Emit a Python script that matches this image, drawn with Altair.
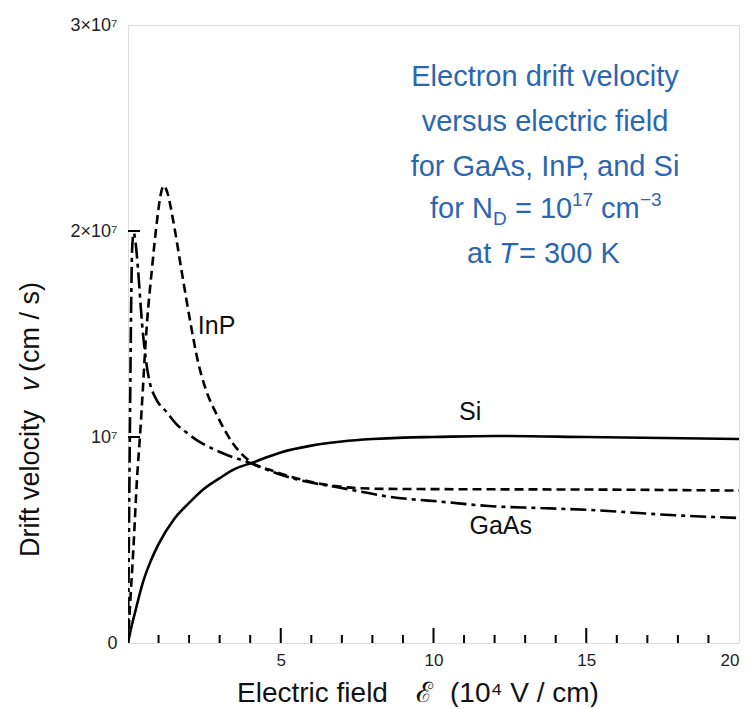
import altair as alt
import pandas as pd

# ---- data (velocity in units of 1e7 cm/s, field in 1e4 V/cm) ----
si_E = [0, 0.1, 0.25, 0.5, 0.75, 1.0, 1.5, 2.0, 2.5, 3.0, 3.5, 4.06, 5.0, 6.0, 7.0, 8.0, 9.0, 10.0, 12.0, 15.0, 20.0]
si_v = [0, 0.07, 0.16, 0.30, 0.40, 0.48, 0.60, 0.68, 0.75, 0.80, 0.845, 0.875, 0.925, 0.958, 0.978, 0.99, 0.997, 1.0, 1.005, 1.0, 0.99]

gaas_E = [0, 0.06, 0.1, 0.14, 0.19, 0.25, 0.33, 0.46, 0.6, 0.72, 0.9, 1.27, 1.6, 1.93, 2.3, 2.68, 3.2, 3.89,
          4.75, 5.5, 6.9, 8.56, 10.4, 11.8, 13.5, 15.1, 17.9, 20]
gaas_v = [0, 1.0, 1.6, 1.93, 1.99, 1.94, 1.81, 1.55, 1.36, 1.26, 1.19, 1.12, 1.06, 1.02, 0.98, 0.95, 0.915, 0.88,
          0.83, 0.795, 0.755, 0.71, 0.684, 0.665, 0.655, 0.646, 0.62, 0.607]

inp_E = [0, 0.07, 0.17, 0.3, 0.39, 0.49, 0.56, 0.62, 0.78, 0.95, 1.05, 1.17, 1.28, 1.48, 1.75, 2.05, 2.3, 2.55,
         2.9, 3.43, 4.06, 4.75, 5.5, 6.4, 7.5, 8.56, 10, 12, 15, 20]
inp_v = [0, 0.19, 0.44, 0.81, 1.0, 1.24, 1.42, 1.55, 1.81, 2.05, 2.16, 2.22, 2.19, 2.05, 1.81, 1.55, 1.36, 1.23,
         1.11, 0.97, 0.875, 0.835, 0.80, 0.77, 0.752, 0.748, 0.747, 0.746, 0.745, 0.74]

x_major_ticks = [5, 10, 15]
x_minor_ticks = [1, 2, 3, 4, 6, 7, 8, 9, 11, 12, 13, 14, 16, 17, 18, 19]
y_ticks = [1, 2]

curve_labels = ["InP", "Si", "GaAs"]
curve_label_E = [2.9, 11.2, 12.2]
curve_label_v = [1.54, 1.12, 0.57]

info_lines = ["Electron drift velocity", "versus electric field", "for GaAs, InP, and Si"]
info_v = [2.75, 2.53, 2.31]

W, H = 611, 618
BLUE = "#2b66b1"
FONT = "Liberation Sans"
INK = "#111"

xs = alt.Scale(domain=[0, 20], nice=False, zero=False)
ys = alt.Scale(domain=[0, 3], nice=False, zero=False)

def series(E, v):
    return pd.DataFrame({"E": E, "v": v})

xaxis = alt.Axis(values=[5, 10, 15, 20], ticks=False, domain=False, grid=False, title=None,
                 labelFont=FONT, labelFontSize=17, labelColor="#222", labelPadding=9)
yaxis = alt.Axis(values=[0, 1, 2, 3], ticks=False, domain=False, grid=False, title=None,
                 labelFont=FONT, labelFontSize=18, labelColor="#222", labelPadding=11,
                 labelExpr="datum.value == 0 ? '0' : datum.value == 1 ? '10⁷' : datum.value == 2 ? '2×10⁷' : '3×10⁷'")

si = alt.Chart(series(si_E, si_v)).mark_line(color="black", strokeWidth=2.6, interpolate="monotone", clip=True).encode(
    x=alt.X("E:Q", scale=xs, axis=xaxis),
    y=alt.Y("v:Q", scale=ys, axis=yaxis),
    order="E:Q",
)
inp = alt.Chart(series(inp_E, inp_v)).mark_line(color="black", strokeWidth=2.6, strokeDash=[9, 5],
                                                  interpolate="monotone", clip=True).encode(
    x=alt.X("E:Q", scale=xs), y=alt.Y("v:Q", scale=ys), order="E:Q")
gaas = alt.Chart(series(gaas_E, gaas_v)).mark_line(color="black", strokeWidth=2.6, strokeDash=[16, 5, 4, 5],
                                                    interpolate="monotone", clip=True).encode(
    x=alt.X("E:Q", scale=xs), y=alt.Y("v:Q", scale=ys), order="E:Q")

minor = alt.Chart(pd.DataFrame({"E": x_minor_ticks})).mark_rule(color="black", strokeWidth=2).encode(
    x=alt.X("E:Q", scale=xs), y=alt.value(H), y2=alt.value(H - 8))
major = alt.Chart(pd.DataFrame({"E": x_major_ticks})).mark_rule(color="black", strokeWidth=2).encode(
    x=alt.X("E:Q", scale=xs), y=alt.value(H), y2=alt.value(H - 15))
yt = alt.Chart(pd.DataFrame({"v": y_ticks})).mark_rule(color="black", strokeWidth=2).encode(
    y=alt.Y("v:Q", scale=ys), x=alt.value(0), x2=alt.value(12))

labels = alt.Chart(pd.DataFrame({"E": curve_label_E, "v": curve_label_v, "t": curve_labels})).mark_text(
    font=FONT, fontSize=25, color=INK, align="center", baseline="middle").encode(
    x=alt.X("E:Q", scale=xs), y=alt.Y("v:Q", scale=ys), text="t:N")

info = alt.Chart(pd.DataFrame({"E": [13.65] * 3, "v": info_v, "t": info_lines})).mark_text(
    font=FONT, fontSize=29, color=BLUE, align="center", baseline="middle").encode(
    x=alt.X("E:Q", scale=xs), y=alt.Y("v:Q", scale=ys), text="t:N")

def txt(s, x, y, size=29, color=BLUE, align="left", baseline="alphabetic", style="normal", angle=0):
    return alt.Chart(pd.DataFrame({"a": [0]})).mark_text(
        text=s, font=FONT, fontSize=size, color=color, align=align, baseline=baseline,
        fontStyle=style, angle=angle).encode(x=alt.value(x), y=alt.value(y))

# line 4: for N_D = 10^17 cm^-3 ; line 5: at T = 300 K
nd = [
    txt("for N", 302, 193),
    txt("D", 365, 200, size=19),
    txt("= 10", 387, 193),
    txt("17", 444, 181, size=19),
    txt("cm", 473, 193),
    txt("−3", 512, 181, size=19),
    txt("at", 339, 238),
    txt("T", 371, 238, style="italic"),
    txt("= 300 K", 391, 238),
]

# axis titles
titles = [
    txt("Electric field", 109, 677, size=28, color=INK),
    txt("ℰ", 296, 677, size=28, color=INK, align="center"),
    txt("(10⁴ V / cm)", 322, 677, size=28, color=INK),
    txt("Drift velocity", -89, 532, size=27, color=INK, angle=270),
    txt("v", -89, 366, size=27, color=INK, angle=270, style="italic"),
    txt("(cm / s)", -89, 347, size=27, color=INK, angle=270),
]

chart = alt.layer(si, inp, gaas, minor, major, yt, labels, info, *nd, *titles).properties(
    width=W, height=H, autosize="none",
    padding={"left": 120, "top": 17, "right": 9, "bottom": 64},
).configure_view(stroke="black", strokeWidth=2.2).configure(background="white")

chart.save("out.html", embed_options={"renderer": "svg", "actions": False})
